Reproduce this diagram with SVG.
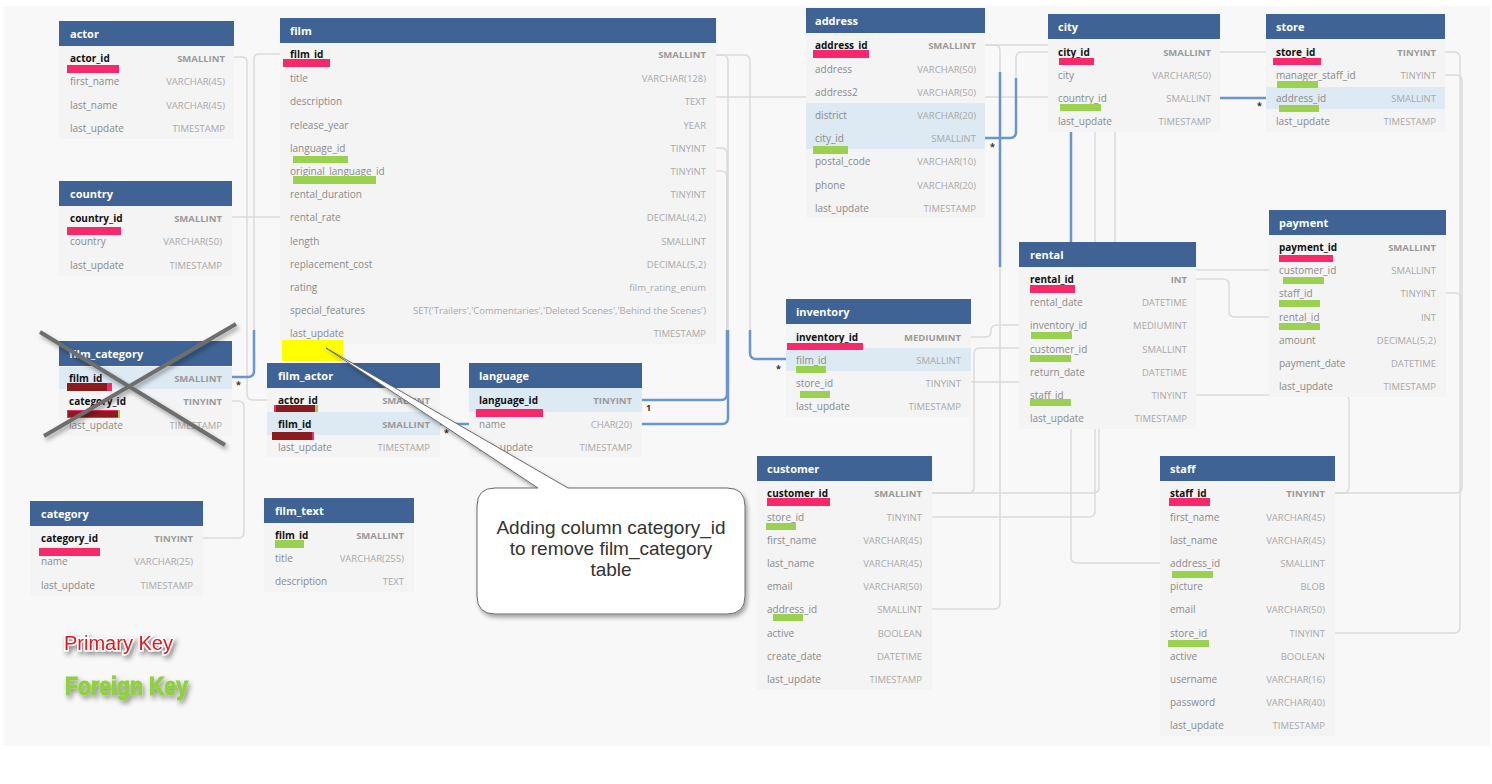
<svg xmlns="http://www.w3.org/2000/svg" width="1492" height="784" viewBox="0 0 1492 784">
<defs>
<style>
.hd{fill:#3e6394}
.bd{fill:#f4f4f4}
.hl{fill:#dde9f3}
.ht{font-family:"Open Sans","Liberation Sans",sans-serif;font-size:11px;font-weight:bold;fill:#fff}
.cn{font-family:"Open Sans","Liberation Sans",sans-serif;font-size:10px;fill:#8a8a8a}
.pk{font-family:"Open Sans","Liberation Sans",sans-serif;font-size:10px;font-weight:bold;fill:#111}
.ty{font-family:"Open Sans","Liberation Sans",sans-serif;font-size:9.5px;fill:#a9a9a9;text-anchor:end}
.tp{font-family:"Open Sans","Liberation Sans",sans-serif;font-size:9.5px;font-weight:bold;fill:#9a9a9a;text-anchor:end}
.pkb{fill:#f7296a}
.fkb{fill:#9bd150}
.drk{fill:#8c1c1c}
.c{fill:none;stroke:#dadada;stroke-width:1.5}
.cb{fill:none;stroke:#6a96cf;stroke-width:2.5}
.mk{font-family:"Open Sans","Liberation Sans",sans-serif;font-size:9px;font-weight:bold;fill:#333}
.co{font-family:"Liberation Sans",Arial,sans-serif;font-size:19px;fill:#333;text-anchor:middle}
</style>
<filter id="sh" x="-20%" y="-20%" width="140%" height="140%">
<feDropShadow dx="2" dy="3" stdDeviation="2" flood-color="#000" flood-opacity="0.35"/>
</filter>
<filter id="sh2" x="-20%" y="-40%" width="140%" height="180%">
<feDropShadow dx="2" dy="3" stdDeviation="2.5" flood-color="#000" flood-opacity="0.45"/>
</filter>
</defs>
<rect x="0" y="0" width="1492" height="784" fill="#ffffff"/>
<rect x="4" y="6" width="1486" height="740" fill="#f8f8f8"/>

<g id="connectors">
<path class="c" d="M234,57 H242 Q247,57 247,62 V394 Q247,400 253,400 H267"/>
<path class="c" d="M280,54 H259 Q254,54 254,59 V330"/>
<path class="cb" d="M254,330 V371 Q254,377 248,377 H232"/>
<path class="c" d="M232,217 H500 V97 H1048"/>
<path class="c" d="M716,55 H722 Q728,55 728,61 V330"/>
<path class="cb" d="M728,330 V418 Q728,424 722,424 H440"/>
<path class="c" d="M716,148 H721 Q727,148 727,154 V330"/>
<path class="c" d="M716,171 H721 Q727,171 727,177 V330"/>
<path class="cb" d="M727,330 V394 Q727,400 721,400 H642"/>
<path class="c" d="M716,55 H744 Q750,55 750,61 V330"/>
<path class="cb" d="M750,330 V353 Q750,359 756,359 H786"/>
<path class="cb" d="M985,138 H1010 Q1016,138 1016,132 V78"/>
<path class="c" d="M1016,78 V58 Q1016,52 1022,52 H1048"/>
<path class="c" d="M985,45 H994 Q1000,45 1000,51 V72"/>
<path class="cb" d="M1000,72 V267"/>
<path class="c" d="M1000,267 V603 Q1000,609 994,609 H932"/>
<path class="c" d="M985,45 H1150 V98 H1220"/>
<path class="cb" d="M1220,98 H1266"/>
<path class="c" d="M1220,52 H1266"/>
<path class="cb" d="M1071,132 V242"/>
<path class="c" d="M1071,242 V557 Q1071,563 1077,563 H1160"/>
<path class="c" d="M932,517 H1089 Q1095,517 1095,511 V132"/>
<path class="c" d="M932,493 H1093 Q1099,493 1099,487 V270 H1269"/>
<path class="c" d="M1115,132 V250"/>
<path class="c" d="M932,493 H968 Q974,493 974,487 V354 Q974,348 980,348 H1019"/>
<path class="c" d="M971,337 H985 Q991,337 991,331 Q991,325 997,325 H1019"/>
<path class="c" d="M971,382 H1100"/>
<path class="c" d="M1196,279 H1223 Q1229,279 1229,285 V311 Q1229,317 1235,317 H1269"/>
<path class="c" d="M1196,395 H1343 Q1349,395 1349,401 V487 Q1349,493 1343,493 H1335"/>
<path class="c" d="M1446,293 H1455 Q1461,293 1461,299 V320"/>
<path class="c" d="M1445,52 H1454 Q1460,52 1460,58 V627 Q1460,633 1454,633 H1335"/>
<path class="c" d="M1445,75 H1456 Q1462,75 1462,81 V487 Q1462,493 1456,493 H1335"/>
<path class="c" d="M203,538 H238 Q244,538 244,532 V407 Q244,401 238,401 H232"/>
</g>

<g id="t-actor">
<rect class="hd" x="59" y="21" width="175" height="25"/>
<text class="ht" x="70" y="38">actor</text>
<rect class="bd" x="59" y="46" width="175" height="93"/>
<text class="pk" x="70" y="61.5">actor_id</text><text class="tp" x="225" y="61.5">SMALLINT</text>
<text class="cn" x="70" y="84.5">first_name</text><text class="ty" x="225" y="84.5">VARCHAR(45)</text>
<text class="cn" x="70" y="108.5">last_name</text><text class="ty" x="225" y="108.5">VARCHAR(45)</text>
<text class="cn" x="70" y="131.5">last_update</text><text class="ty" x="225" y="131.5">TIMESTAMP</text>
<rect class="pkb" x="67" y="65" width="52" height="8"/>
</g>

<g id="t-country">
<rect class="hd" x="59" y="181" width="173" height="25"/>
<text class="ht" x="70" y="198">country</text>
<rect class="bd" x="59" y="206" width="173" height="70"/>
<text class="pk" x="70" y="221.5">country_id</text><text class="tp" x="222" y="221.5">SMALLINT</text>
<text class="cn" x="70" y="244.5">country</text><text class="ty" x="222" y="244.5">VARCHAR(50)</text>
<text class="cn" x="70" y="268.5">last_update</text><text class="ty" x="222" y="268.5">TIMESTAMP</text>
<rect class="pkb" x="67" y="227" width="54" height="8"/>
</g>

<g id="t-film">
<rect class="hd" x="280" y="18" width="436" height="25"/>
<text class="ht" x="290" y="35">film</text>
<rect class="bd" x="280" y="43" width="436" height="301"/>
<text class="pk" x="290" y="57.5">film_id</text><text class="tp" x="706" y="57.5">SMALLINT</text>
<text class="cn" x="290" y="81.5">title</text><text class="ty" x="706" y="81.5">VARCHAR(128)</text>
<text class="cn" x="290" y="104.5">description</text><text class="ty" x="706" y="104.5">TEXT</text>
<text class="cn" x="290" y="128.5">release_year</text><text class="ty" x="706" y="128.5">YEAR</text>
<text class="cn" x="290" y="151.5">language_id</text><text class="ty" x="706" y="151.5">TINYINT</text>
<text class="cn" x="290" y="174.5">original_language_id</text><text class="ty" x="706" y="174.5">TINYINT</text>
<text class="cn" x="290" y="197.5">rental_duration</text><text class="ty" x="706" y="197.5">TINYINT</text>
<text class="cn" x="290" y="220.5">rental_rate</text><text class="ty" x="706" y="220.5">DECIMAL(4,2)</text>
<text class="cn" x="290" y="244.5">length</text><text class="ty" x="706" y="244.5">SMALLINT</text>
<text class="cn" x="290" y="267.5">replacement_cost</text><text class="ty" x="706" y="267.5">DECIMAL(5,2)</text>
<text class="cn" x="290" y="290.5">rating</text><text class="ty" x="706" y="290.5">film_rating_enum</text>
<text class="cn" x="290" y="313.5">special_features</text><text class="ty" x="706" y="313.5">SET('Trailers','Commentaries','Deleted Scenes','Behind the Scenes')</text>
<text class="cn" x="290" y="336.5">last_update</text><text class="ty" x="706" y="336.5">TIMESTAMP</text>
<rect class="pkb" x="283" y="59" width="47" height="8"/>
<rect class="fkb" x="293" y="156" width="55" height="7"/>
<rect class="fkb" x="293" y="176" width="83" height="8"/>
<rect x="282" y="340" width="61" height="21" fill="#ffff00"/>
</g>

<g id="t-film_category">
<rect class="hd" x="59" y="341" width="173" height="25"/>
<text class="ht" x="69" y="358">film_category</text>
<rect class="bd" x="59" y="366" width="173" height="70"/>
<rect class="hl" x="59" y="367" width="173" height="22"/>
<text class="pk" x="69" y="381.5">film_id</text><text class="tp" x="222" y="381.5">SMALLINT</text>
<text class="pk" x="69" y="404.5">category_id</text><text class="tp" x="222" y="404.5">TINYINT</text>
<text class="cn" x="69" y="428.5">last_update</text><text class="ty" x="222" y="428.5">TIMESTAMP</text>
<rect class="pkb" x="67" y="383" width="45" height="8"/>
<rect class="drk" x="67" y="383" width="40" height="8"/>
<rect class="pkb" x="67" y="410" width="53" height="8"/>
<rect class="drk" x="68" y="411" width="50" height="6"/>
<rect class="fkb" x="118" y="410" width="2" height="8"/>
</g>

<g id="t-film_actor">
<rect class="hd" x="267" y="363" width="173" height="25"/>
<text class="ht" x="278" y="380">film_actor</text>
<rect class="bd" x="267" y="388" width="173" height="69"/>
<rect class="hl" x="267" y="412" width="173" height="23"/>
<text class="pk" x="278" y="403.5">actor_id</text><text class="tp" x="430" y="403.5">SMALLINT</text>
<text class="pk" x="278" y="427.5">film_id</text><text class="tp" x="430" y="427.5">SMALLINT</text>
<text class="cn" x="278" y="450.5">last_update</text><text class="ty" x="430" y="450.5">TIMESTAMP</text>
<rect class="pkb" x="274" y="405" width="43" height="7"/>
<rect class="drk" x="276" y="405" width="39" height="7"/>
<rect class="fkb" x="315" y="405" width="3" height="7"/>
<rect class="pkb" x="272" y="432" width="42" height="8"/>
<rect class="drk" x="272" y="432" width="40" height="8"/>
</g>

<g id="t-language">
<rect class="hd" x="469" y="363" width="173" height="25"/>
<text class="ht" x="479" y="380">language</text>
<rect class="bd" x="469" y="388" width="173" height="69"/>
<rect class="hl" x="469" y="388" width="173" height="24"/>
<text class="pk" x="479" y="403.5">language_id</text><text class="tp" x="632" y="403.5">TINYINT</text>
<text class="cn" x="479" y="427.5">name</text><text class="ty" x="632" y="427.5">CHAR(20)</text>
<text class="cn" x="479" y="450.5">last_update</text><text class="ty" x="632" y="450.5">TIMESTAMP</text>
<rect class="pkb" x="476" y="409" width="67" height="8"/>
</g>

<g id="t-category">
<rect class="hd" x="30" y="501" width="173" height="25"/>
<text class="ht" x="41" y="518">category</text>
<rect class="bd" x="30" y="526" width="173" height="70"/>
<text class="pk" x="41" y="541.5">category_id</text><text class="tp" x="193" y="541.5">TINYINT</text>
<text class="cn" x="41" y="564.5">name</text><text class="ty" x="193" y="564.5">VARCHAR(25)</text>
<text class="cn" x="41" y="588.5">last_update</text><text class="ty" x="193" y="588.5">TIMESTAMP</text>
<rect class="pkb" x="39" y="548" width="61" height="8"/>
</g>

<g id="t-film_text">
<rect class="hd" x="264" y="498" width="150" height="25"/>
<text class="ht" x="275" y="515">film_text</text>
<rect class="bd" x="264" y="523" width="150" height="69"/>
<text class="pk" x="275" y="538.5">film_id</text><text class="tp" x="404" y="538.5">SMALLINT</text>
<text class="cn" x="275" y="561.5">title</text><text class="ty" x="404" y="561.5">VARCHAR(255)</text>
<text class="cn" x="275" y="584.5">description</text><text class="ty" x="404" y="584.5">TEXT</text>
<rect class="fkb" x="275" y="540" width="29" height="8"/>
</g>

<g id="t-address">
<rect class="hd" x="806" y="8" width="179" height="25"/>
<text class="ht" x="815" y="25">address</text>
<rect class="bd" x="806" y="33" width="179" height="185"/>
<rect class="hl" x="806" y="103" width="179" height="46"/>
<text class="pk" x="815" y="48.5">address_id</text><text class="tp" x="976" y="48.5">SMALLINT</text>
<text class="cn" x="815" y="72.5">address</text><text class="ty" x="976" y="72.5">VARCHAR(50)</text>
<text class="cn" x="815" y="95.5">address2</text><text class="ty" x="976" y="95.5">VARCHAR(50)</text>
<text class="cn" x="815" y="118.5">district</text><text class="ty" x="976" y="118.5">VARCHAR(20)</text>
<text class="cn" x="815" y="141.5">city_id</text><text class="ty" x="976" y="141.5">SMALLINT</text>
<text class="cn" x="815" y="164.5">postal_code</text><text class="ty" x="976" y="164.5">VARCHAR(10)</text>
<text class="cn" x="815" y="188.5">phone</text><text class="ty" x="976" y="188.5">VARCHAR(20)</text>
<text class="cn" x="815" y="211.5">last_update</text><text class="ty" x="976" y="211.5">TIMESTAMP</text>
<rect class="pkb" x="813" y="50" width="56" height="8"/>
<rect class="fkb" x="813" y="146" width="35" height="8"/>
</g>

<g id="t-city">
<rect class="hd" x="1048" y="14" width="172" height="25"/>
<text class="ht" x="1058" y="31">city</text>
<rect class="bd" x="1048" y="39" width="172" height="93"/>
<text class="pk" x="1058" y="55.5">city_id</text><text class="tp" x="1211" y="55.5">SMALLINT</text>
<text class="cn" x="1058" y="78.5">city</text><text class="ty" x="1211" y="78.5">VARCHAR(50)</text>
<text class="cn" x="1058" y="101.5">country_id</text><text class="ty" x="1211" y="101.5">SMALLINT</text>
<text class="cn" x="1058" y="124.5">last_update</text><text class="ty" x="1211" y="124.5">TIMESTAMP</text>
<rect class="pkb" x="1059" y="58" width="35" height="7"/>
<rect class="fkb" x="1060" y="104" width="41" height="7"/>
</g>

<g id="t-store">
<rect class="hd" x="1266" y="14" width="179" height="25"/>
<text class="ht" x="1276" y="31">store</text>
<rect class="bd" x="1266" y="39" width="179" height="93"/>
<rect class="hl" x="1266" y="87" width="179" height="22"/>
<text class="pk" x="1276" y="55.5">store_id</text><text class="tp" x="1436" y="55.5">TINYINT</text>
<text class="cn" x="1276" y="78.5">manager_staff_id</text><text class="ty" x="1436" y="78.5">TINYINT</text>
<text class="cn" x="1276" y="101.5">address_id</text><text class="ty" x="1436" y="101.5">SMALLINT</text>
<text class="cn" x="1276" y="124.5">last_update</text><text class="ty" x="1436" y="124.5">TIMESTAMP</text>
<rect class="pkb" x="1273" y="58" width="48" height="7"/>
<rect class="fkb" x="1277" y="81" width="41" height="7"/>
<rect class="fkb" x="1279" y="105" width="40" height="7"/>
</g>

<g id="t-payment">
<rect class="hd" x="1269" y="210" width="177" height="25"/>
<text class="ht" x="1279" y="227">payment</text>
<rect class="bd" x="1269" y="235" width="177" height="162"/>
<text class="pk" x="1279" y="250.5">payment_id</text><text class="tp" x="1436" y="250.5">SMALLINT</text>
<text class="cn" x="1279" y="273.5">customer_id</text><text class="ty" x="1436" y="273.5">SMALLINT</text>
<text class="cn" x="1279" y="296.5">staff_id</text><text class="ty" x="1436" y="296.5">TINYINT</text>
<text class="cn" x="1279" y="320.5">rental_id</text><text class="ty" x="1436" y="320.5">INT</text>
<text class="cn" x="1279" y="343.5">amount</text><text class="ty" x="1436" y="343.5">DECIMAL(5,2)</text>
<text class="cn" x="1279" y="366.5">payment_date</text><text class="ty" x="1436" y="366.5">DATETIME</text>
<text class="cn" x="1279" y="389.5">last_update</text><text class="ty" x="1436" y="389.5">TIMESTAMP</text>
<rect class="pkb" x="1279" y="255" width="54" height="7"/>
<rect class="fkb" x="1283" y="277" width="41" height="7"/>
<rect class="fkb" x="1279" y="300" width="41" height="7"/>
<rect class="fkb" x="1279" y="323" width="41" height="7"/>
</g>

<g id="t-rental">
<rect class="hd" x="1019" y="242" width="177" height="25"/>
<text class="ht" x="1030" y="259">rental</text>
<rect class="bd" x="1019" y="267" width="177" height="162"/>
<text class="pk" x="1030" y="282.5">rental_id</text><text class="tp" x="1187" y="282.5">INT</text>
<text class="cn" x="1030" y="305.5">rental_date</text><text class="ty" x="1187" y="305.5">DATETIME</text>
<text class="cn" x="1030" y="328.5">inventory_id</text><text class="ty" x="1187" y="328.5">MEDIUMINT</text>
<text class="cn" x="1030" y="352.5">customer_id</text><text class="ty" x="1187" y="352.5">SMALLINT</text>
<text class="cn" x="1030" y="375.5">return_date</text><text class="ty" x="1187" y="375.5">DATETIME</text>
<text class="cn" x="1030" y="398.5">staff_id</text><text class="ty" x="1187" y="398.5">TINYINT</text>
<text class="cn" x="1030" y="421.5">last_update</text><text class="ty" x="1187" y="421.5">TIMESTAMP</text>
<rect class="pkb" x="1030" y="285" width="45" height="8"/>
<rect class="fkb" x="1031" y="332" width="41" height="7"/>
<rect class="fkb" x="1030" y="355" width="41" height="7"/>
<rect class="fkb" x="1030" y="399" width="41" height="7"/>
</g>

<g id="t-inventory">
<rect class="hd" x="786" y="299" width="185" height="25"/>
<text class="ht" x="796" y="316">inventory</text>
<rect class="bd" x="786" y="324" width="185" height="93"/>
<rect class="hl" x="786" y="348" width="185" height="23"/>
<text class="pk" x="796" y="340.5">inventory_id</text><text class="tp" x="961" y="340.5">MEDIUMINT</text>
<text class="cn" x="796" y="363.5">film_id</text><text class="ty" x="961" y="363.5">SMALLINT</text>
<text class="cn" x="796" y="386.5">store_id</text><text class="ty" x="961" y="386.5">TINYINT</text>
<text class="cn" x="796" y="409.5">last_update</text><text class="ty" x="961" y="409.5">TIMESTAMP</text>
<rect class="pkb" x="787" y="343" width="76" height="7"/>
<rect class="fkb" x="796" y="366" width="30" height="7"/>
<rect class="fkb" x="800" y="391" width="30" height="7"/>
</g>

<g id="t-customer">
<rect class="hd" x="757" y="456" width="175" height="25"/>
<text class="ht" x="767" y="473">customer</text>
<rect class="bd" x="757" y="481" width="175" height="209"/>
<text class="pk" x="767" y="496.5">customer_id</text><text class="tp" x="922" y="496.5">SMALLINT</text>
<text class="cn" x="767" y="520.5">store_id</text><text class="ty" x="922" y="520.5">TINYINT</text>
<text class="cn" x="767" y="543.5">first_name</text><text class="ty" x="922" y="543.5">VARCHAR(45)</text>
<text class="cn" x="767" y="566.5">last_name</text><text class="ty" x="922" y="566.5">VARCHAR(45)</text>
<text class="cn" x="767" y="589.5">email</text><text class="ty" x="922" y="589.5">VARCHAR(50)</text>
<text class="cn" x="767" y="612.5">address_id</text><text class="ty" x="922" y="612.5">SMALLINT</text>
<text class="cn" x="767" y="636.5">active</text><text class="ty" x="922" y="636.5">BOOLEAN</text>
<text class="cn" x="767" y="659.5">create_date</text><text class="ty" x="922" y="659.5">DATETIME</text>
<text class="cn" x="767" y="682.5">last_update</text><text class="ty" x="922" y="682.5">TIMESTAMP</text>
<rect class="pkb" x="767" y="498" width="63" height="8"/>
<rect class="fkb" x="766" y="523" width="30" height="7"/>
<rect class="fkb" x="773" y="614" width="30" height="7"/>
</g>

<g id="t-staff">
<rect class="hd" x="1160" y="456" width="175" height="25"/>
<text class="ht" x="1170" y="473">staff</text>
<rect class="bd" x="1160" y="481" width="175" height="255"/>
<text class="pk" x="1170" y="496.5">staff_id</text><text class="tp" x="1325" y="496.5">TINYINT</text>
<text class="cn" x="1170" y="520.5">first_name</text><text class="ty" x="1325" y="520.5">VARCHAR(45)</text>
<text class="cn" x="1170" y="543.5">last_name</text><text class="ty" x="1325" y="543.5">VARCHAR(45)</text>
<text class="cn" x="1170" y="566.5">address_id</text><text class="ty" x="1325" y="566.5">SMALLINT</text>
<text class="cn" x="1170" y="589.5">picture</text><text class="ty" x="1325" y="589.5">BLOB</text>
<text class="cn" x="1170" y="612.5">email</text><text class="ty" x="1325" y="612.5">VARCHAR(50)</text>
<text class="cn" x="1170" y="636.5">store_id</text><text class="ty" x="1325" y="636.5">TINYINT</text>
<text class="cn" x="1170" y="659.5">active</text><text class="ty" x="1325" y="659.5">BOOLEAN</text>
<text class="cn" x="1170" y="682.5">username</text><text class="ty" x="1325" y="682.5">VARCHAR(16)</text>
<text class="cn" x="1170" y="705.5">password</text><text class="ty" x="1325" y="705.5">VARCHAR(40)</text>
<text class="cn" x="1170" y="728.5">last_update</text><text class="ty" x="1325" y="728.5">TIMESTAMP</text>
<rect class="pkb" x="1169" y="498" width="41" height="8"/>
<rect class="fkb" x="1172" y="571" width="41" height="7"/>
<rect class="fkb" x="1168" y="640" width="41" height="7"/>
</g>

<g id="markers">
<text class="mk" x="236" y="388">*</text>
<text class="mk" x="444" y="436">*</text>
<text class="mk" x="646" y="411">1</text>
<text class="mk" x="776" y="372">*</text>
<text class="mk" x="990" y="150">*</text>
<text class="mk" x="1257" y="109">*</text>
</g>

<g id="strike" filter="url(#sh)">
<line x1="40" y1="332" x2="225" y2="445" stroke="#6e6e6e" stroke-width="4"/>
<line x1="236" y1="324" x2="44" y2="436" stroke="#6e6e6e" stroke-width="4"/>
</g>

<g id="callout">
<path d="M495,488 H538 L326,348 L568,488 H727 Q745,488 745,506 V596 Q745,614 727,614 H495 Q477,614 477,596 V506 Q477,488 495,488 Z" fill="#ffffff" stroke="#6a6a6a" stroke-width="1" filter="url(#sh)"/>
<text class="co" x="611" y="534">Adding column category_id</text>
<text class="co" x="611" y="555">to remove film_category</text>
<text class="co" x="611" y="576">table</text>
</g>

<g id="legend">
<text x="64" y="650" font-family="Liberation Sans, Arial, sans-serif" font-size="20" fill="#e8141c" stroke="#ffffff" stroke-width="3" paint-order="stroke" filter="url(#sh2)">Primary Key</text>
<text x="65" y="695" font-family="Liberation Sans Narrow, Liberation Sans, Arial, sans-serif" font-size="25" font-weight="bold" fill="#8fd13f" stroke="#8fd13f" stroke-width="1.2" textLength="123" lengthAdjust="spacingAndGlyphs" filter="url(#sh2)">Foreign Key</text>
</g>
</svg>
